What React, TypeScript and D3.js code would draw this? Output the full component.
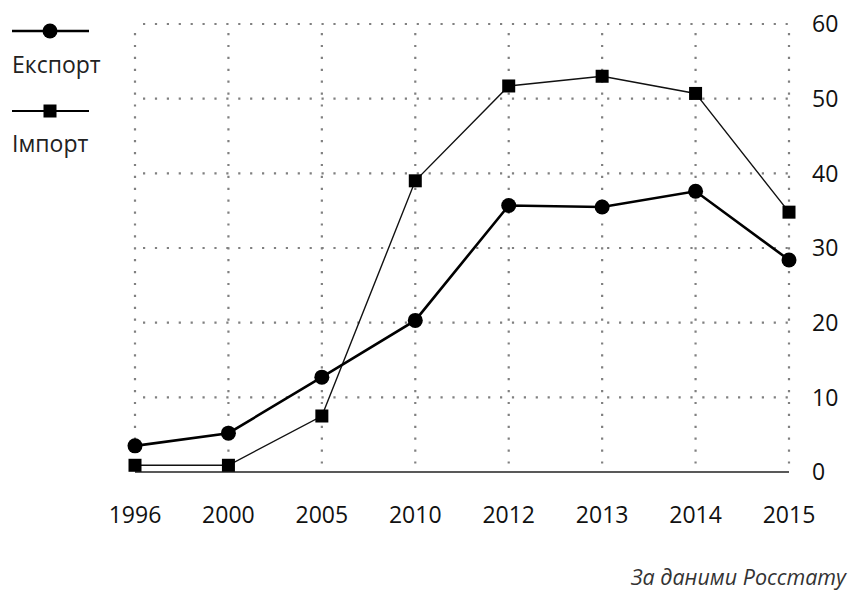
import React from "react";
import * as d3 from "d3";

const years = ["1996", "2000", "2005", "2010", "2012", "2013", "2014", "2015"];
const exportValues = [3.5, 5.2, 12.7, 20.3, 35.7, 35.5, 37.6, 28.4];
const importValues = [0.9, 0.9, 7.5, 39, 51.7, 53, 50.7, 34.8];
const yTicks = [0, 10, 20, 30, 40, 50, 60];

const W = 850;
const H = 592;

export default function App() {
  const x = d3.scalePoint().domain(years).range([135, 789]);
  const y = d3.scaleLinear().domain([0, 60]).range([472, 24]);
  const line = d3
    .line<number>()
    .x((_, i) => x(years[i]) as number)
    .y((d) => y(d));

  const font = "'Open Sans', 'Noto Sans', sans-serif";
  const dots = "2.2 9.7";

  return (
    <svg
      width={W}
      height={H}
      style={{ position: "absolute", left: 0, top: 0, background: "#fff" }}
      fontFamily={font}
    >
      {/* grid */}
      {yTicks
        .filter((t) => t > 0)
        .map((t) => (
          <line
            key={"h" + t}
            x1={x(years[0])! + 8}
            x2={x(years[years.length - 1])!}
            y1={y(t)}
            y2={y(t)}
            stroke="#808080"
            strokeWidth={2.2}
            strokeDasharray={dots}
          />
        ))}
      {years.map((yr) => (
        <line
          key={"v" + yr}
          x1={x(yr)}
          x2={x(yr)}
          y1={y(60) + 9}
          y2={y(0)}
          stroke="#808080"
          strokeWidth={2.2}
          strokeDasharray={dots}
        />
      ))}
      <line
        x1={x(years[0])}
        x2={x(years[years.length - 1])}
        y1={y(0)}
        y2={y(0)}
        stroke="#222"
        strokeWidth={1.5}
      />

      {/* y labels on right */}
      {yTicks.map((t) => (
        <text
          key={"yl" + t}
          x={812}
          y={y(t)}
          dy="0.36em"
          fontSize={23}
          fill="#111"
        >
          {t}
        </text>
      ))}

      {/* x labels */}
      {years.map((yr) => (
        <text
          key={"xl" + yr}
          x={x(yr)}
          y={523}
          textAnchor="middle"
          fontSize={23}
          fill="#111"
        >
          {yr}
        </text>
      ))}

      {/* import */}
      <path d={line(importValues) ?? ""} fill="none" stroke="#111" strokeWidth={1.4} />
      {importValues.map((v, i) => (
        <rect
          key={"ir" + i}
          x={(x(years[i]) as number) - 6.5}
          y={y(v) - 6.5}
          width={13}
          height={13}
          fill="#000"
        />
      ))}

      {/* export */}
      <path d={line(exportValues) ?? ""} fill="none" stroke="#000" strokeWidth={2.6} />
      {exportValues.map((v, i) => (
        <circle key={"ec" + i} cx={x(years[i])} cy={y(v)} r={7.5} fill="#000" />
      ))}

      {/* legend */}
      <line x1={12} x2={89} y1={31} y2={31} stroke="#000" strokeWidth={2.6} />
      <circle cx={50} cy={31} r={7.5} fill="#000" />
      <text x={12} y={73} fontSize={23} fill="#222">
        Експорт
      </text>
      <line x1={12} x2={89} y1={111} y2={111} stroke="#000" strokeWidth={2} />
      <rect x={43.5} y={104.5} width={13} height={13} fill="#000" />
      <text x={12} y={152} fontSize={23} fill="#222">
        Імпорт
      </text>

      {/* source */}
      <text
        x={846}
        y={585}
        textAnchor="end"
        fontSize={21.5}
        fontStyle="italic"
        fill="#333"
      >
        За даними Росстату
      </text>
    </svg>
  );
}
